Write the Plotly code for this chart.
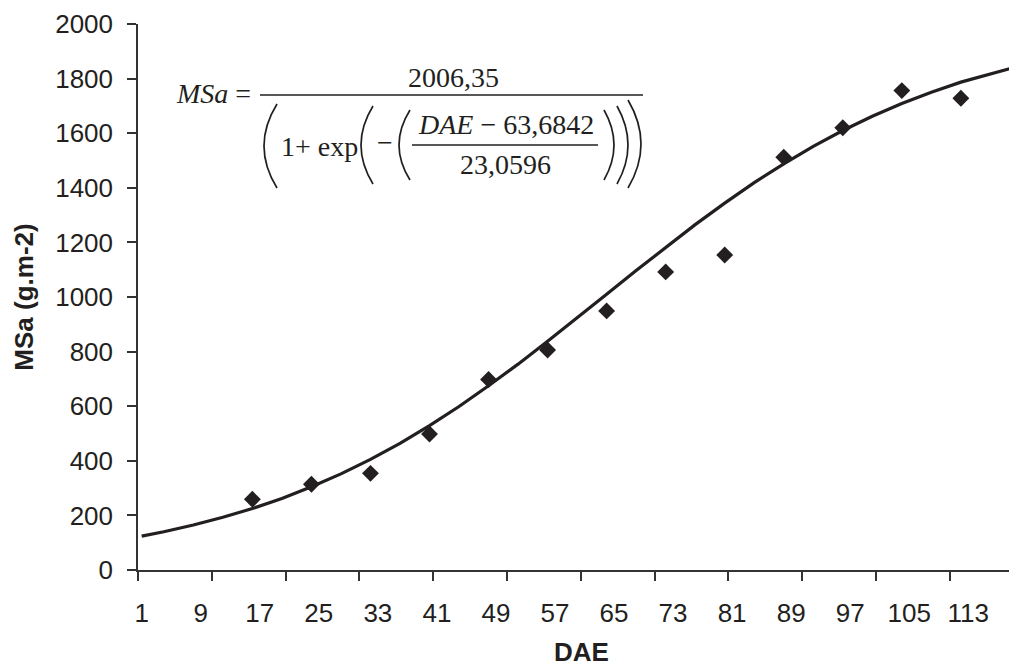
import plotly.graph_objects as go

# ---- data ----
obs_dae = [16, 24, 32, 40, 48, 56, 64, 72, 80, 88, 96, 104, 112, 120]
obs_msa = [259, 314, 354, 498, 698, 806, 949, 1092, 1154, 1512, 1620, 1756, 1728, 1638]

fit_dae = [1, 4, 8, 12, 16, 20, 24, 28, 32, 36, 40, 44, 48, 52, 56, 60, 64, 68,
           72, 76, 80, 84, 88, 92, 96, 100, 104, 108, 112, 116, 119]
fit_msa = [124, 140, 165, 193, 225, 262, 305, 352, 405, 464, 529, 599, 675, 754,
           838, 923, 1010, 1097, 1182, 1265, 1344, 1419, 1488, 1552, 1610, 1662,
           1709, 1750, 1787, 1818, 1839]

x_tick_vals = [1, 9, 17, 25, 33, 41, 49, 57, 65, 73, 81, 89, 97, 105, 113]
y_tick_vals = [0, 200, 400, 600, 800, 1000, 1200, 1400, 1600, 1800, 2000]

INK = "#231f20"
AX = "#333333"
W, H = 1017, 672
OFF = 8                      # page body margin
L, R, T, B = 130, 0, 16, 110
PW, PH = W - L - R, H - T - B
X0, Y0 = L + OFF, H - B + OFF   # plot corner in window pixels


def px(x):
    return (x - X0) / PW


def py(y):
    return (Y0 - y) / PH


fig = go.Figure()
fig.add_trace(go.Scatter(x=fit_dae, y=fit_msa, mode="lines",
                         line=dict(color=INK, width=3.2), showlegend=False))
fig.add_trace(go.Scatter(x=obs_dae, y=obs_msa, mode="markers",
                         marker=dict(symbol="diamond", size=13, color=INK),
                         showlegend=False))

serif = dict(family="Liberation Serif", size=28, color=INK)
ann = [
    dict(x=px(174), y=py(93), text="<i>MSa</i> =", xanchor="left", yanchor="middle"),
    dict(x=px(453), y=py(77), text="2006,35", xanchor="center", yanchor="middle"),
    dict(x=px(279), y=py(146), text="1+ exp", xanchor="left", yanchor="middle"),
    dict(x=px(385), y=py(142), text="−", xanchor="center", yanchor="middle"),
    dict(x=px(506), y=py(124), text="<i>DAE</i> − 63,6842", xanchor="center", yanchor="middle"),
    dict(x=px(505), y=py(164), text="23,0596", xanchor="center", yanchor="middle"),
]
annotations = []
for a in ann:
    a.update(xref="paper", yref="paper", showarrow=False, font=serif)
    annotations.append(a)


def paren(xe, apex, y0, y1, w=1.7):
    cx = 2 * apex - xe
    return dict(type="path", xref="paper", yref="paper",
                path=f"M {px(xe)},{py(y0)} Q {px(cx)},{py((y0 + y1) / 2)} {px(xe)},{py(y1)}",
                line=dict(color=INK, width=w))


shapes = [
    dict(type="line", xref="paper", yref="paper", x0=px(260), x1=px(643), y0=py(95), y1=py(95),
         line=dict(color=INK, width=1.6)),
    dict(type="line", xref="paper", yref="paper", x0=px(412), x1=px(598), y0=py(145), y1=py(145),
         line=dict(color=INK, width=1.4)),
    paren(277, 264, 104, 188),
    paren(373, 361, 106, 184),
    paren(410, 399, 110, 180),
    paren(604, 614, 110, 180),
    paren(617, 628, 106, 184),
    paren(628, 641, 100, 188),
]

tickfont = dict(family="Liberation Sans", size=26, color=INK)
titlefont = dict(family="Liberation Sans", size=26, color=INK)
fig.update_layout(
    width=W, height=H, margin=dict(l=L, r=R, t=T, b=B),
    paper_bgcolor="white", plot_bgcolor="white",
    annotations=annotations, shapes=shapes,
    xaxis=dict(range=[0.5, 0.5 + PW / 7.38], tickmode="array", tickvals=x_tick_vals,
               ticktext=[str(v) for v in x_tick_vals], ticks="", showgrid=False,
               zeroline=False, showline=True, linecolor=AX, linewidth=1.5,
               tickfont=tickfont, ticklabelstandoff=19,
               minor=dict(ticks="outside", tick0=0.5, dtick=10, ticklen=9,
                          tickcolor=AX, tickwidth=1.5, showgrid=False),
               title=dict(text="<b>DAE</b>", font=titlefont, standoff=16)),
    yaxis=dict(range=[0, 2000], tickmode="array", tickvals=y_tick_vals, ticks="outside",
               ticklen=9, tickcolor=AX, tickwidth=1.5, showgrid=False, zeroline=False,
               showline=True, linecolor=AX, linewidth=1.5, tickfont=tickfont,
               ticklabelstandoff=9,
               title=dict(text="<b>MSa (g.m-2)</b>", font=titlefont, standoff=14)),
)

fig.write_html("out.html")
